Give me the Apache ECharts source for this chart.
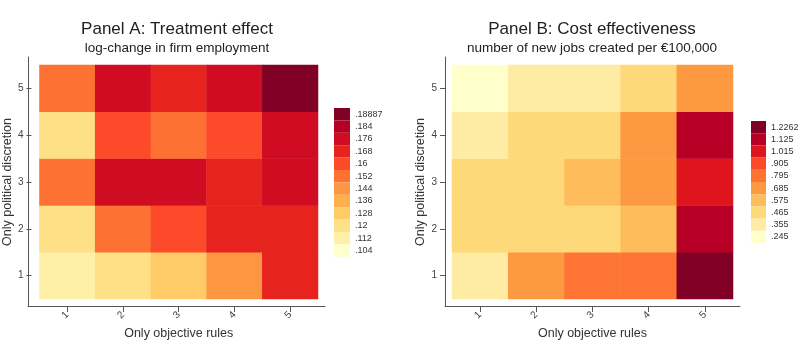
<!DOCTYPE html>
<html>
<head>
<meta charset="utf-8">
<script src="https://cdn.jsdelivr.net/npm/echarts@6/dist/echarts.min.js"></script>
<style>
html,body{margin:0;padding:0;background:#fff;}
#chart{width:800px;height:348px;}
</style>
</head>
<body>
<div id="chart"></div>
<script>
// ---- data ----
const xCategories = ['1', '2', '3', '4', '5'];
const yCategories = ['1', '2', '3', '4', '5'];

// Panel A: rows from y=1 (bottom) to y=5 (top); columns x=1..5
const effectA = [
  [0.112, 0.12, 0.128, 0.144, 0.168],
  [0.12, 0.152, 0.16, 0.168, 0.168],
  [0.152, 0.176, 0.176, 0.168, 0.176],
  [0.12, 0.16, 0.152, 0.16, 0.176],
  [0.152, 0.176, 0.168, 0.176, 0.18887]
];
// Panel B: rows from y=1 (bottom) to y=5 (top); columns x=1..5
const costB = [
  [0.355, 0.685, 0.795, 0.795, 1.2262],
  [0.465, 0.465, 0.465, 0.575, 1.125],
  [0.465, 0.465, 0.575, 0.685, 1.015],
  [0.355, 0.465, 0.465, 0.685, 1.125],
  [0.245, 0.355, 0.355, 0.465, 0.685]
];

const legendLabelsA = ['.18887', '.184', '.176', '.168', '.16', '.152', '.144', '.136', '.128', '.12', '.112', '.104'];
const legendLabelsB = ['1.2262', '1.125', '1.015', '.905', '.795', '.685', '.575', '.465', '.355', '.245'];

const colorsA = ['#800026', '#b30026', '#cf0c22', '#e6231e', '#fc4a2a', '#fd7233', '#fd9640', '#feb04c', '#fecb66', '#fee086', '#fff0a8', '#ffffcc'];
const colorsB = ['#800026', '#b80026', '#de151d', '#fb4a29', '#fd7433', '#fd9a41', '#febd5a', '#fed97a', '#ffeca4', '#ffffcc'];

const titleA = 'Panel A: Treatment effect';
const subA = 'log-change in firm employment';
const titleB = 'Panel B: Cost effectiveness';
const subB = 'number of new jobs created per €100,000';
const xName = 'Only objective rules';
const yName = 'Only political discretion';

// ---- build ----
function toCells(rows) {
  const out = [];
  rows.forEach((row, yi) => row.forEach((v, xi) => out.push([xi, yi, v])));
  return out;
}
function toPieces(labels, colors) {
  const t = labels.map(parseFloat);
  return labels.map((lab, i) => {
    const p = { gte: t[i], label: lab, color: colors[i] };
    if (i > 0) p.lt = t[i - 1];
    return p;
  });
}

const FONT = '"Liberation Sans", Arial, sans-serif';
const axisColor = '#555';
const textColor = '#333';

function catX(gridIndex) {
  return {
    type: 'category', data: xCategories, gridIndex: gridIndex, position: 'bottom', offset: 7,
    axisLine: { show: false },
    axisTick: { show: true, alignWithLabel: true, length: 6, lineStyle: { color: axisColor } },
    axisLabel: { rotate: 45, margin: 7, fontSize: 10, color: '#444', fontFamily: FONT },
    splitLine: { show: false },
    name: xName, nameLocation: 'middle', nameGap: 20,
    nameTextStyle: { fontSize: 12.5, color: textColor, fontFamily: FONT }
  };
}
function catY(gridIndex, off, gap) {
  return {
    type: 'category', data: yCategories, gridIndex: gridIndex, position: 'left', offset: off,
    axisLine: { show: false },
    axisTick: { show: true, alignWithLabel: true, length: 5, lineStyle: { color: axisColor } },
    axisLabel: { margin: 8, fontSize: 10, color: '#444', fontFamily: FONT },
    splitLine: { show: false },
    name: yName, nameLocation: 'middle', nameGap: gap, nameRotate: 90,
    nameTextStyle: { fontSize: 12.5, color: textColor, fontFamily: FONT }
  };
}
function frameAxis(gridIndex, pos) {
  return {
    type: 'value', gridIndex: gridIndex, position: pos, min: 0, max: 1,
    axisLine: { show: true, lineStyle: { color: axisColor, width: 1 } },
    axisTick: { show: false }, axisLabel: { show: false }, splitLine: { show: false }
  };
}
function legendMap(seriesIndex, labels, colors, left, top, w, h) {
  return {
    type: 'piecewise', seriesIndex: seriesIndex, pieces: toPieces(labels, colors),
    orient: 'vertical', align: 'left', left: left, top: top, padding: 0,
    itemWidth: w, itemHeight: h, itemGap: 0,
    itemSymbol: 'rect', textGap: 5, showLabel: true,
    textStyle: { fontSize: 9, color: '#333', fontFamily: FONT },
    selectedMode: false, hoverLink: false
  };
}
function titleText(x, y, text, size) {
  return {
    type: 'text', x: x, y: y, silent: true,
    style: { text: text, textAlign: 'center', textVerticalAlign: 'middle', fill: '#222', font: size + 'px ' + FONT }
  };
}

const option = {
  animation: false,
  backgroundColor: '#fff',
  grid: [
    { left: 36, top: 65, width: 282, height: 234 },
    { left: 452, top: 65, width: 281, height: 234 },
    { left: 28, top: 57, width: 297, height: 249 },
    { left: 445, top: 57, width: 295, height: 249 }
  ],
  xAxis: [catX(0), catX(1), frameAxis(2, 'bottom'), frameAxis(3, 'bottom')],
  yAxis: [catY(0, 8, 14), catY(1, 7, 15), frameAxis(2, 'left'), frameAxis(3, 'left')],
  visualMap: [
    legendMap(0, legendLabelsA, colorsA, 334, 108, 16, 12.4),
    legendMap(1, legendLabelsB, colorsB, 751, 121, 15, 12.2)
  ],
  series: [
    { type: 'heatmap', xAxisIndex: 0, yAxisIndex: 0, data: toCells(effectA), itemStyle: { borderWidth: 0 }, emphasis: { disabled: true } },
    { type: 'heatmap', xAxisIndex: 1, yAxisIndex: 1, data: toCells(costB), itemStyle: { borderWidth: 0 }, emphasis: { disabled: true } }
  ],
  graphic: [
    titleText(177, 29, titleA, 17),
    titleText(177, 48, subA, 13.5),
    titleText(592, 29, titleB, 17),
    titleText(592, 48, subB, 13.5)
  ]
};

const chart = echarts.init(document.getElementById('chart'), null, { renderer: 'canvas' });
chart.setOption(option);
</script>
</body>
</html>
